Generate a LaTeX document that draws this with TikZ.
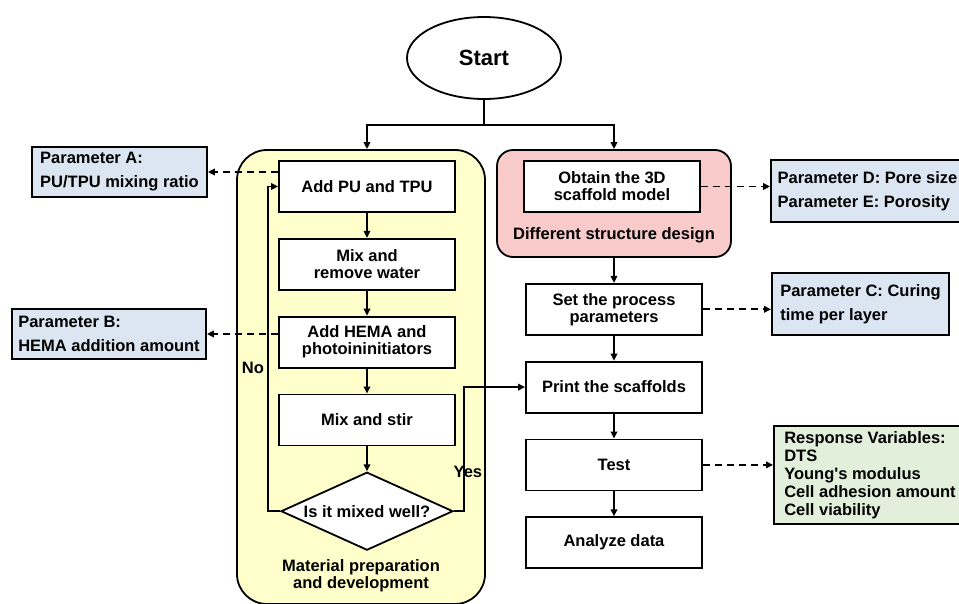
\documentclass[tikz,border=0pt]{standalone}
\usepackage{fontspec}
\setmainfont{Liberation Sans}
\usetikzlibrary{arrows.meta,positioning,shapes.geometric}
\definecolor{prepyellow}{HTML}{FFFFCC}
\definecolor{designpink}{HTML}{F8CACA}
\definecolor{parblue}{HTML}{DCE6F2}
\definecolor{respgreen}{HTML}{E2EFDA}
\tikzset{
  stepbox/.style={rectangle,draw,line width=1.8pt,fill=white,minimum width=176pt,minimum height=51pt,align=center,inner sep=2pt},
  param/.style={rectangle,draw,line width=1.8pt,fill=parblue,align=left,inner sep=4pt,font=\bfseries\fontsize{16.5}{24}\selectfont},
  group/.style={rectangle,draw,line width=1.8pt,inner sep=0pt},
}

\begin{document}
\begin{tikzpicture}[x=1pt,y=-1pt,font=\bfseries\fontsize{16.5}{17}\selectfont,node distance=25pt,
  ar/.style={-{Triangle[length=7pt,width=6.5pt]},line width=1.8pt},
  dar/.style={ar,dash pattern=on 7pt off 5pt}]
  \useasboundingbox (0,0) rectangle (959,604);
  \clip (0,0) rectangle (959,604);
  % the two grouping panels go first, behind the steps
  \node[group,fill=prepyellow,rounded corners=30pt,minimum width=248pt,minimum height=454pt] (prep) at (361,377) {};
  \node[align=center] (preplabel) at (361,576) {Material preparation\\and development};
  \node[group,fill=designpink,rounded corners=16pt,minimum width=234pt,minimum height=107pt] (design) at (614,203.5) {};
  \node (designlabel) at (614,235) {Different structure design};

  \node[ellipse,draw,line width=1.8pt,fill=white,minimum width=154pt,minimum height=82pt,font=\bfseries\fontsize{22}{24}\selectfont] (start) at (484,58) {Start};
  \coordinate (split) at (484,125);

  \node[stepbox] (pu) at (367,186.5) {Add PU and TPU};
  \node[stepbox,below=of pu] (mixwater) {Mix and\\remove water};
  \node[stepbox,below=of mixwater] (hema) {Add HEMA and\\photoininitiators};
  \node[stepbox,below=of hema] (stir) {Mix and stir};
  \node[diamond,draw,line width=1.8pt,fill=white,aspect=2.2,inner sep=0pt,minimum width=172pt,minimum height=78pt,below=of stir] (check) {Is it mixed well?};

  \node[stepbox] (model) at (612,186.5) {Obtain the 3D\\scaffold model};
  \node[stepbox,below=of design] (setpar) {Set the process\\parameters};
  \node[stepbox,below=of setpar] (print) {Print the scaffolds};
  \node[stepbox,below=of print] (test) {Test};
  \node[stepbox,below=of test] (analyze) {Analyze data};

  \node[param,minimum width=175pt,minimum height=50pt] (parA) at (119.5,172) {Parameter A:\\PU/TPU mixing ratio};
  \node[param,minimum width=194pt,minimum height=50pt] (parB) at (109,334) {Parameter B:\\HEMA addition amount};
  \node[param,minimum width=193pt,minimum height=62pt] (parDE) at (867.5,191) {Parameter D: Pore size\\Parameter E: Porosity};
  \node[param,minimum width=177pt,minimum height=62pt] (parC) at (860.5,304) {Parameter C: Curing\\time per layer};
  \node[param,fill=respgreen,minimum width=192pt,minimum height=98pt,font=\bfseries\fontsize{16.5}{18}\selectfont] (resp) at (870,475) {Response Variables:\\DTS\\Young\textquotesingle s modulus\\Cell adhesion amount\\Cell viability};

  \draw[line width=1.8pt] (start.south) -- (split);
  \draw[ar] (split) -| (prep.north -| pu);
  \draw[ar] (split) -| (design.north);
  \foreach \a/\b in {pu/mixwater,mixwater/hema,hema/stir,stir/check,design/setpar,setpar/print,print/test,test/analyze}
    \draw[ar] (\a) -- (\b);
  \draw[ar] (check.west) -- ++(-12,0) |- node[pos=0.22,left] {No} (pu.west);
  \draw[ar] (check.east) -- ++(10,0) |- node[pos=0.16,xshift=4pt] {Yes} (print.west);

  \draw[dar] (parA.east -| pu.west) -- (parA.east);
  \draw[dar] (parB.east -| hema.west) -- (parB.east);
  \draw[dar] (model.east) -- (model.east -| parDE.west);
  \draw[dar] (setpar.east) -- (setpar.east -| parC.west);
  \draw[dar] (test.east) -- (test.east -| resp.west);
\end{tikzpicture}
\end{document}
